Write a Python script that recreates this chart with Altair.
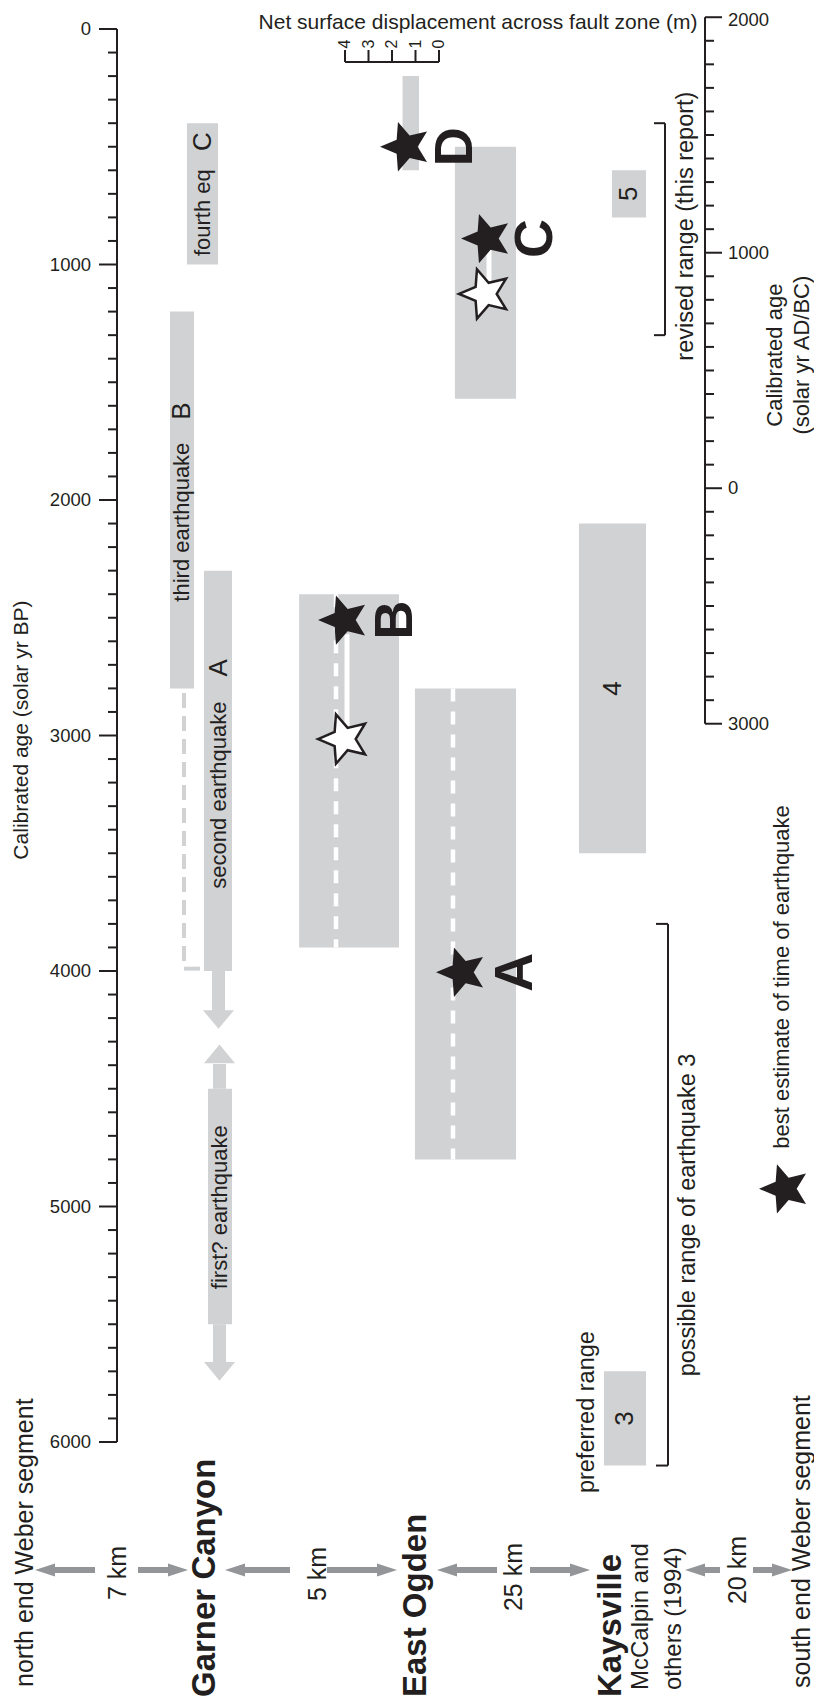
import altair as alt
import pandas as pd

# ---------------- chart values (calibrated age, solar yr BP) ----------------
GARNER_NAMES = ["fourth eq", "third earthquake", "second earthquake", "first?  earthquake"]
GARNER_EVENTS = ["C", "B", "A", ""]
GARNER_YOUNG = [400, 1200, 2300, 4500]
GARNER_OLD = [1000, 2800, 4000, 5500]

OGDEN_EVENTS = ["D", "C", "B", "A"]
OGDEN_YOUNG = [200, 500, 2400, 2800]
OGDEN_OLD = [600, 1570, 3900, 4800]
OGDEN_DISP_M = [0.7, 2.6, 4.25, 4.3]        # net surface displacement (m)
OGDEN_BEST = [500, 890, 2510, 4005]         # best estimate (black star)
OGDEN_PRIOR = [None, 1125, 3015, None]      # earlier estimate (white star)

KAYS_EVENTS = ["5", "4", "3"]
KAYS_YOUNG = [600, 2100, 5700]
KAYS_OLD = [800, 3500, 6100]

REVISED_RANGE = [400, 1300]
POSSIBLE_RANGE_EQ3 = [3800, 6100]

SITES = ["Garner Canyon", "East Ogden", "Kaysville"]
DISTANCES = ["7 km", "5 km", "25 km", "20 km"]

BP_TICKS = list(range(0, 6001, 100))
BP_MAJOR = [0, 1000, 2000, 3000, 4000, 5000, 6000]
ADBC_TICKS = list(range(2000, -1001, -100))
ADBC_MAJOR = [2000, 1000, 0, -1000]
ADBC_LABELS = ["2000", "1000", "0", "3000"]
DISP_TICKS = [0, 1, 2, 3, 4]

# ---------------- layout / style ----------------
FONT = "Liberation Sans"
INK = "#231f20"
GRAY = "#d1d2d4"
ARROW_GRAY = "#939598"
W, H = 806, 1691
PX_PER_YR = 0.2355
Y0 = 29


def bp(row):
    """figure row (px) -> position on the BP age scale"""
    return (row - Y0) / PX_PER_YR


XS = alt.Scale(domain=[8, 814], nice=False, zero=False)
YS = alt.Scale(domain=[bp(8), bp(8 + H)], reverse=True, nice=False, zero=False)

GARNER_X = [(187, 218), (170, 194), (204, 232), (208, 232)]
GARNER_TXT_X = [203, 182, 219, 220]
GARNER_NAME_Y = [780, 2094, 3253, 5003]
GARNER_EVENT_Y = [478, 1622, 2713, None]
OGDEN_RIGHT = [419, 516, 399, 516]
OGDEN_STAR_X = [406, 487, 344, 462]
OGDEN_LETTER_X = [456, 536, 396, 516]
DISP_ZERO_X, PX_PER_M = 439, 23.5
KAYS_X = [(612, 646), (579, 646), (604, 646)]
LEFT_AX, RIGHT_AX = 117, 705
LEGEND_STAR = (785, 4925)
STAR = ("M-1,0L-0.36,-0.27L-0.309,-0.951L0.14,-0.43L0.809,-0.588L0.45,0"
        "L0.809,0.588L0.14,0.43L-0.309,0.951L-0.36,0.27Z")
HEAD_DOWN = "M-1,-0.6L1,-0.6L0,0.6Z"
HEAD_UP = "M-1,0.6L1,0.6L0,-0.6Z"
HEAD_LEFT = "M1,-0.65L-1,0L1,0.65Z"
HEAD_RIGHT = "M-1,-0.65L1,0L-1,0.65Z"


def X(f="x"):
    return alt.X(f"{f}:Q", scale=XS, axis=None)


def Y(f="y"):
    return alt.Y(f"{f}:Q", scale=YS, axis=None)


def rects(df, color):
    return alt.Chart(df).mark_rect(color=color, opacity=1).encode(
        x=X("x"), x2="x2:Q", y=Y("y"), y2="y2:Q")


def rules(df, color, width, dash=None):
    kw = dict(color=color, strokeWidth=width, opacity=1)
    if dash:
        kw["strokeDash"] = dash
    return alt.Chart(df).mark_rule(**kw).encode(
        x=X("x"), x2="x2:Q", y=Y("y"), y2="y2:Q")


def points(df, shape, size, fill, stroke=None, sw=0):
    kw = dict(shape=shape, size=size, filled=True, fill=fill, opacity=1, strokeWidth=sw)
    if stroke:
        kw["stroke"] = stroke
    return alt.Chart(df).mark_point(**kw).encode(x=X("x"), y=Y("y"))


def texts(rows, weight="normal", align="center", color=INK):
    df = pd.DataFrame(rows, columns=["text", "x", "y", "size", "angle"])
    return alt.Chart(df).mark_text(font=FONT, fontWeight=weight, align=align,
                                   baseline="middle", color=color).encode(
        x=X("x"), y=Y("y"), text="text:N",
        size=alt.Size("size:Q", scale=None), angle=alt.Angle("angle:Q", scale=None))


def seg(x, y, x2=None, y2=None):
    return {"x": x, "y": y, "x2": x if x2 is None else x2, "y2": y if y2 is None else y2}


layers = []

# ---- gray range bars ----
bar_rows = []
for (x0, x1), a, b in zip(GARNER_X, GARNER_YOUNG, GARNER_OLD):
    bar_rows.append({"x": x0, "x2": x1, "y": a, "y2": b})
for r, d, a, b in zip(OGDEN_RIGHT, OGDEN_DISP_M, OGDEN_YOUNG, OGDEN_OLD):
    bar_rows.append({"x": r - d * PX_PER_M, "x2": r, "y": a, "y2": b})
for (x0, x1), a, b in zip(KAYS_X, KAYS_YOUNG, KAYS_OLD):
    bar_rows.append({"x": x0, "x2": x1, "y": a, "y2": b})
# open-ended arrow shafts at Garner Canyon
bar_rows += [
    {"x": 212, "x2": 225, "y": GARNER_OLD[2], "y2": 4170},
    {"x": 213, "x2": 226, "y": 4395, "y2": GARNER_YOUNG[3]},
    {"x": 213, "x2": 226, "y": GARNER_OLD[3], "y2": 5665},
]
layers.append(rects(pd.DataFrame(bar_rows), GRAY))
layers.append(points(pd.DataFrame([{"x": 218.5, "y": 4206}, {"x": 219.5, "y": 5700}]),
                     HEAD_DOWN, 961, GRAY))
layers.append(points(pd.DataFrame([{"x": 219.5, "y": 4352}]), HEAD_UP, 961, GRAY))

# dashed correlation line at Garner Canyon
layers.append(rules(pd.DataFrame([seg(184, 2820, 184, 3990)]), GRAY, 4, [15, 8]))
layers.append(rules(pd.DataFrame([seg(184, 3990, 200, 3990)]), GRAY, 4))

# white dashed lines and white shift arrows at East Ogden
layers.append(rules(pd.DataFrame([seg(336, OGDEN_YOUNG[2], 336, OGDEN_OLD[2]),
                                  seg(453, OGDEN_YOUNG[3], 453, OGDEN_OLD[3])]),
                    "white", 4.5, [13, 10]))
layers.append(rules(pd.DataFrame([seg(347, 2570, 347, OGDEN_PRIOR[2] - 50),
                                  seg(489, 935, 489, OGDEN_PRIOR[1] - 55)]),
                    "white", 5))

# stars
best = pd.DataFrame({"x": OGDEN_STAR_X + [LEGEND_STAR[0]], "y": OGDEN_BEST + [LEGEND_STAR[1]]})
prior = pd.DataFrame({"x": [485, 344], "y": [OGDEN_PRIOR[1], OGDEN_PRIOR[2]]})
layers.append(points(prior, STAR, 2700, "white", INK, 2.5))
layers.append(points(best, STAR, 2700, INK))

# brackets
br = []
for (a, b), x, xt in [(REVISED_RANGE, 665, 654), (POSSIBLE_RANGE_EQ3, 668, 656)]:
    br += [seg(x, a, x, b), seg(xt, a, x, a), seg(xt, b, x, b)]
layers.append(rules(pd.DataFrame(br), INK, 2))

# ---- left axis (BP) ----
ax = [seg(LEFT_AX, 0, LEFT_AX, 6000)]
ax += [seg(99 if t in BP_MAJOR else 108, t, LEFT_AX, t) for t in BP_TICKS]
# ---- right axis (AD/BC) ----
ax += [seg(RIGHT_AX, 1950 - 2000, RIGHT_AX, 1950 + 1000)]
ax += [seg(RIGHT_AX, 1950 - yr, 722 if yr in ADBC_MAJOR else 714, 1950 - yr) for yr in ADBC_TICKS]
# ---- displacement scale ----
ax += [seg(DISP_ZERO_X - 4 * PX_PER_M, bp(62), DISP_ZERO_X, bp(62))]
ax += [seg(DISP_ZERO_X - m * PX_PER_M, bp(50), DISP_ZERO_X - m * PX_PER_M, bp(62)) for m in DISP_TICKS]
layers.append(rules(pd.DataFrame(ax), INK, 2))

layers.append(texts([(str(t), 91, t, 18.5, 0) for t in BP_MAJOR], align="right"))
layers.append(texts([(lab, 728, max(1950 - yr, bp(20)), 18.5, 0)
                     for yr, lab in zip(ADBC_MAJOR, ADBC_LABELS)], align="left"))
layers.append(texts([("Net surface displacement across fault zone (m)", 478, bp(23), 21, 0)]))

# ---- distance arrows between sites ----
row_y = bp(1570)
left_arrows = [(35, 95), (225, 290), (437, 497), (685, 720)]
right_arrows = [(138, 188), (327, 397), (530, 590), (753, 792)]
sh = [seg(t + 10, row_y, e, row_y) for t, e in left_arrows]
sh += [seg(s, row_y, t - 10, row_y) for s, t in right_arrows]
layers.append(rules(pd.DataFrame(sh), ARROW_GRAY, 6))
layers.append(points(pd.DataFrame([{"x": t + 10, "y": row_y} for t, _ in left_arrows]),
                     HEAD_LEFT, 400, ARROW_GRAY))
layers.append(points(pd.DataFrame([{"x": t - 10, "y": row_y} for _, t in right_arrows]),
                     HEAD_RIGHT, 400, ARROW_GRAY))

# ---- rotated labels ----
rot = []
for name, ev, x, ny, ey in zip(GARNER_NAMES, GARNER_EVENTS, GARNER_TXT_X, GARNER_NAME_Y, GARNER_EVENT_Y):
    rot.append((name, x, ny, 22, 270))
    if ev:
        rot.append((ev, x, ey, 26, 270))
for ev, (x0, x1), a, b in zip(KAYS_EVENTS, KAYS_X, KAYS_YOUNG, KAYS_OLD):
    rot.append((ev, (x0 + x1) / 2, (a + b) / 2, 26, 270))
rot += [
    ("revised range (this report)", 686, 837, 23.5, 270),
    ("possible range of earthquake 3", 688, 5036, 23.5, 270),
    ("preferred range", 587, 5873, 23.5, 270),
    ("Calibrated age (solar yr BP)", 22, 2977, 21, 270),
    ("Calibrated age", 775, 1385, 22, 270),
    ("(solar yr AD/BC)", 802, 1385, 22, 270),
]
for lab, x, r in zip(DISTANCES, [118, 318, 514, 738], [1573, 1574, 1577, 1570]):
    rot.append((lab, x, bp(r), 25, 270))
for m in DISP_TICKS:
    rot.append((str(m), DISP_ZERO_X - m * PX_PER_M, bp(44), 16, 270))
layers.append(texts(rot))

layers.append(texts([(ev, x, y, 54, 270) for ev, x, y in zip(OGDEN_EVENTS, OGDEN_LETTER_X, OGDEN_BEST)],
                    weight="bold"))

layers.append(texts([
    ("best estimate of time of earthquake", 782, LEGEND_STAR[1] - 170, 22, 270),
    ("north end Weber segment", 25, bp(1687), 25, 270),
    ("McCalpin and", 641, bp(1690), 24, 270),
    ("others (1994)", 674, bp(1690), 24, 270),
    ("south end Weber segment", 802, bp(1688), 25, 270),
], align="left"))
layers.append(texts([(s, x, bp(1697), 33, 270) for s, x in zip(SITES, [205, 416, 611])],
                    weight="bold", align="left"))

chart = alt.layer(*layers).properties(
    width=W, height=H, padding=0,
    autosize=alt.AutoSizeParams(type="none"),
).configure_view(strokeWidth=0)

chart.save("out.html", embed_options={"renderer": "svg", "actions": False})
